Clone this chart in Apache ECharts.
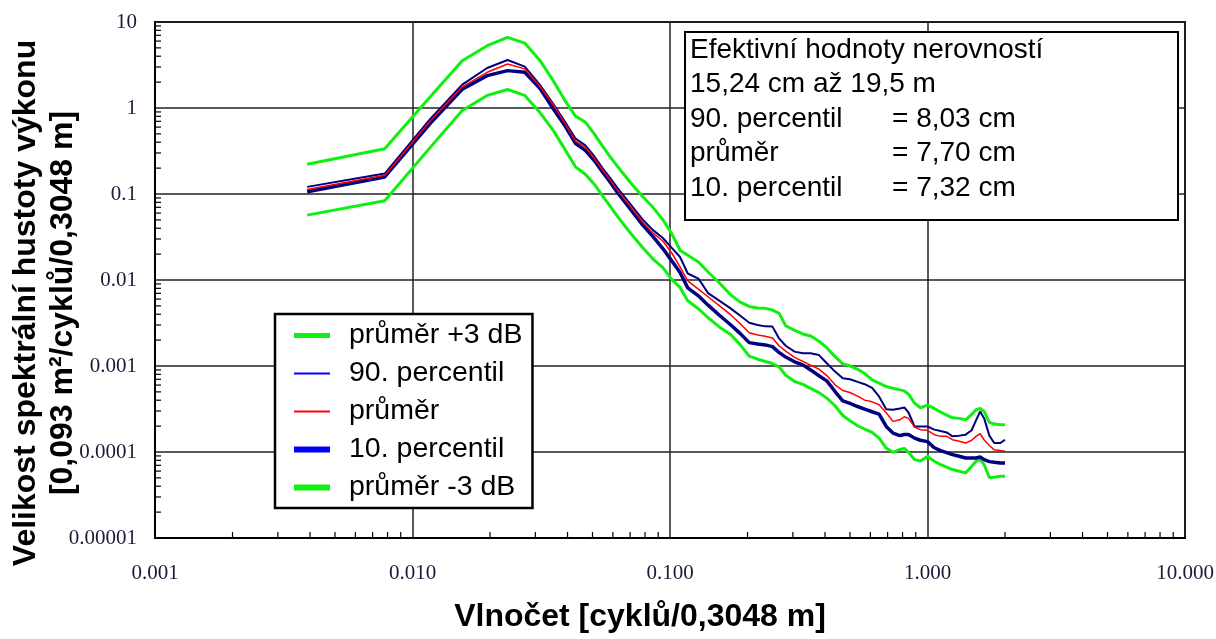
<!DOCTYPE html>
<html>
<head>
<meta charset="utf-8">
<script src="https://cdn.jsdelivr.net/npm/echarts@6/dist/echarts.min.js"></script>
<style>
html,body{margin:0;padding:0;background:#fff;}
#c{width:1216px;height:639px;}
</style>
</head>
<body>
<div id="c"></div>
<script>
// wavenumber [cycles/0.3048 m]
const wavenumber = [0.0039,0.0078,0.0117,0.0156,0.0195,0.0234,0.0273,0.0313,0.0352,0.0391,0.0430,0.0469,0.0508,0.0547,0.0586,0.0625,0.0703,0.0781,0.0859,
0.0938,0.1016,0.1094,0.1172,0.1289,0.1406,0.1563,0.1719,0.1875,0.2031,0.2188,0.2344,0.25,0.2656,0.2813,0.3047,0.3281,0.3516,0.3789,
0.4063,0.4375,0.4688,0.5,0.5352,0.5703,0.6094,0.6484,0.6914,0.7344,0.7813,0.8125,0.8438,0.8906,0.9375,1.0,1.0625,1.125,1.1875,1.25,1.3281,1.4063,1.4844,1.543,1.6016,1.6602,1.7383,1.8164,1.9141,2.0];

const meanPlus3dB = [0.222,0.336,1.34,3.55,5.30,6.62,5.69,3.55,2.08,1.22,0.80,0.685,0.50,0.36,0.27,0.21,0.135,0.094,0.07,
0.0502,0.0346,0.0222,0.0194,0.0162,0.0124,0.0091,0.00672,0.00553,0.00493,0.00472,0.00468,0.00447,0.00409,0.00294,0.0026,0.00236,0.00223,0.00194,
1.634e-3,1.285e-3,1.057e-3,1.002e-3,9.16e-4,8.17e-4,6.90e-4,6.31e-4,5.77e-4,5.52e-4,5.28e-4,5.14e-4,4.70e-4,3.70e-4,3.27e-4,3.51e-4,3.21e-4,2.91e-4,2.69e-4,2.50e-4,2.46e-4,2.37e-4,2.74e-4,3.10e-4,3.21e-4,2.96e-4,2.21e-4,2.11e-4,2.08e-4,2.08e-4];

const percentile90 = [0.121,0.173,0.74,1.87,2.92,3.62,3.03,1.85,1.12,0.69,0.44,0.368,0.275,0.2,0.153,0.118,0.076,0.051,0.038,
0.0308,0.0236,0.0185,0.0119,0.0104,0.00703,0.00568,0.00468,0.00384,0.00319,0.003,0.00289,0.00287,0.00208,0.00172,0.00147,0.00141,0.00141,0.00134,
1.076e-3,8.61e-4,7.21e-4,7.02e-4,6.54e-4,6.14e-4,5.57e-4,4.42e-4,3.15e-4,3.10e-4,3.21e-4,3.30e-4,2.88e-4,1.98e-4,1.98e-4,1.98e-4,1.82e-4,1.75e-4,1.69e-4,1.52e-4,1.55e-4,1.59e-4,1.79e-4,2.33e-4,2.96e-4,2.46e-4,1.55e-4,1.27e-4,1.27e-4,1.39e-4];

const mean = [0.113,0.165,0.70,1.76,2.6,3.25,2.85,1.78,1.1,0.66,0.41,0.35,0.26,0.19,0.145,0.111,0.071,0.0475,0.035,
0.0284,0.0206,0.0142,0.00978,0.00783,0.00638,0.00497,0.00395,0.0031,0.00244,0.00229,0.00222,0.00212,0.00171,0.00149,0.00126,0.00113,0.00102,0.00092,
7.74e-4,6.04e-4,5.19e-4,4.92e-4,4.46e-4,4.01e-4,3.83e-4,3.54e-4,2.86e-4,2.27e-4,2.37e-4,2.57e-4,2.46e-4,1.95e-4,1.82e-4,1.79e-4,1.59e-4,1.52e-4,1.52e-4,1.39e-4,1.33e-4,1.27e-4,1.37e-4,1.52e-4,1.63e-4,1.38e-4,1.19e-4,1.06e-4,1.04e-4,1.02e-4];

const percentile10 = [0.106,0.158,0.66,1.65,2.38,2.72,2.60,1.68,0.98,0.62,0.385,0.322,0.245,0.18,0.137,0.104,0.066,0.044,0.032,
0.0232,0.0167,0.0122,0.0081,0.00655,0.0051,0.00384,0.00302,0.00238,0.00187,0.0018,0.00176,0.00168,0.00143,0.00127,0.00112,0.00103,0.0009,0.00077,
6.71e-4,5.05e-4,3.94e-4,3.67e-4,3.38e-4,3.15e-4,2.94e-4,2.76e-4,1.98e-4,1.66e-4,1.55e-4,1.60e-4,1.60e-4,1.45e-4,1.37e-4,1.32e-4,1.12e-4,1.04e-4,9.83e-5,9.32e-5,8.92e-5,8.53e-5,8.53e-5,8.53e-5,8.76e-5,8.16e-5,7.73e-5,7.60e-5,7.46e-5,7.46e-5];

const meanMinus3dB = [0.0568,0.0833,0.346,0.936,1.40,1.64,1.40,0.88,0.549,0.33,0.206,0.17,0.13,0.095,0.072,0.055,0.035,0.024,0.0175,
0.01395,0.0101,0.00819,0.00573,0.00463,0.00364,0.00281,0.00232,0.00176,0.0013,0.0012,0.00113,0.00107,0.00097,0.00078,0.00066,0.00061,0.00055,0.00049,
4.23e-4,3.45e-4,2.66e-4,2.31e-4,2.02e-4,1.85e-4,1.69e-4,1.45e-4,1.11e-4,9.92e-5,1.07e-4,1.10e-4,9.92e-5,8.16e-5,7.87e-5,8.84e-5,7.80e-5,7.14e-5,6.65e-5,6.25e-5,5.98e-5,5.72e-5,6.83e-5,7.80e-5,8.16e-5,7.14e-5,5.05e-5,5.09e-5,5.23e-5,5.23e-5];

const seriesNames = ['průměr +3 dB','90. percentil','průměr','10. percentil','průměr -3 dB'];
const xTickLabels = ['0.001','0.010','0.100','1.000','10.000'];
const yTickLabels = ['0.00001','0.0001','0.001','0.01','0.1','1','10'];
const boxLines = ['Efektivní hodnoty nerovností','15,24 cm až 19,5 m'];
const boxLabels = ['90. percentil','průměr','10. percentil'];
const boxValues = ['= 8,03 cm','= 7,70 cm','= 7,32 cm'];

const X_MIN = 0.001, X_MAX = 10, Y_MIN = 1e-5, Y_MAX = 10;

// minor tick positions (2..9 in each decade) – axis decoration
const xMinor = [];
for (let e = -3; e < 1; e++) for (let k = 2; k <= 9; k++) xMinor.push(k * Math.pow(10, e));
const yMinor = [];
for (let e = -5; e < 1; e++) for (let k = 2; k <= 9; k++) yMinor.push(k * Math.pow(10, e));

function pairs(ys) { return wavenumber.map((x, i) => [x, ys[i]]); }

const chart = echarts.init(document.getElementById('c'), null, {renderer: 'canvas'});

const SANS = 'Liberation Sans, Arial, sans-serif';
const SERIF = 'Liberation Serif, Times New Roman, serif';

const option = {
  backgroundColor: '#fff',
  animation: false,
  grid: {
    left: 155, right: 31, top: 22, bottom: 101,
    show: true, borderColor: '#111', borderWidth: 2,
    outerBoundsMode: 'none'
  },
  xAxis: {
    type: 'log', logBase: 10, min: X_MIN, max: X_MAX, splitNumber: 4,
    axisLine: {show: true, onZero: false, lineStyle: {color: '#000', width: 2}},
    axisTick: {show: false},
    splitLine: {show: true, lineStyle: {color: '#222', width: 1.5}},
    axisLabel: {
      margin: 25, fontSize: 21, fontFamily: SERIF, color: '#1a1a3a',
      formatter: (v, i) => xTickLabels[i]
    },
    name: 'Vlnočet [cyklů/0,3048 m]',
    nameLocation: 'middle', nameGap: 63, nameMoveOverlap: false,
    nameTextStyle: {fontSize: 32, fontWeight: 'bold', fontFamily: SANS, color: '#000', padding: [0, 60, 0, 0]}
  },
  yAxis: {
    type: 'log', logBase: 10, min: Y_MIN, max: Y_MAX, splitNumber: 6,
    axisLine: {show: true, onZero: false, lineStyle: {color: '#000', width: 2}},
    axisTick: {show: false},
    splitLine: {show: true, lineStyle: {color: '#222', width: 1.5}},
    axisLabel: {
      margin: 18, fontSize: 21, fontFamily: SERIF, color: '#1a1a3a',
      formatter: (v, i) => yTickLabels[i]
    },
    name: 'Velikost spektrální hustoty výkonu\n[0,093 m²/cyklů/0,3048 m]',
    nameLocation: 'middle', nameGap: 68.5, nameRotate: 90, nameMoveOverlap: false,
    nameTextStyle: {fontSize: 32, fontWeight: 'bold', fontFamily: SANS, color: '#000', lineHeight: 37,
      backgroundColor: '#fff', padding: [0, 46, 5, 0]}
  },
  legend: {
    left: 275, top: 314, orient: 'vertical',
    backgroundColor: '#fff', borderColor: '#000', borderWidth: 2.5,
    padding: [7, 10, 6, 16],
    itemWidth: 36, itemHeight: 28, itemGap: 9,
    selectedMode: false,
    textStyle: {fontSize: 28.5, fontFamily: SANS, color: '#000', lineHeight: 28, padding: [0, 0, 0, 14]},
    data: [
      {name: seriesNames[0], lineStyle: {width: 5, color: '#10f010'}, itemStyle: {opacity: 0}},
      {name: seriesNames[1], lineStyle: {width: 2, color: '#0000ff'}, itemStyle: {opacity: 0}},
      {name: seriesNames[2], lineStyle: {width: 2, color: '#ff0000'}, itemStyle: {opacity: 0}},
      {name: seriesNames[3], lineStyle: {width: 6, color: '#0000ff'}, itemStyle: {opacity: 0}},
      {name: seriesNames[4], lineStyle: {width: 6, color: '#10f010'}, itemStyle: {opacity: 0}}
    ],
    z: 10
  },
  graphic: [
    {
      type: 'rect', z: 100,
      shape: {x: 685, y: 32, width: 493, height: 188},
      style: {fill: '#fff', stroke: '#000', lineWidth: 2}
    },
    {
      type: 'text', z: 101, x: 690, y: 33,
      style: {
        text: boxLines[0] + '\n' + boxLines[1] + '\n' +
          boxLabels.map((l, i) => '{l|' + l + '}{v|' + boxValues[i] + '}').join('\n'),
        fontSize: 28, lineHeight: 34.5, fontFamily: SANS, fill: '#000',
        rich: {
          l: {width: 202, fontSize: 28, lineHeight: 34.5, fontFamily: SANS, fill: '#000'},
          v: {fontSize: 28, lineHeight: 34.5, fontFamily: SANS, fill: '#000'}
        }
      }
    }
  ],
  series: [
    {name: seriesNames[0], type: 'line', data: pairs(meanPlus3dB), showSymbol: false, symbol: 'none',
      lineStyle: {color: '#10f010', width: 3}, itemStyle: {color: '#10f010'}, z: 3},
    {name: seriesNames[4], type: 'line', data: pairs(meanMinus3dB), showSymbol: false, symbol: 'none',
      lineStyle: {color: '#10f010', width: 3}, itemStyle: {color: '#10f010'}, z: 3},
    {name: seriesNames[3], type: 'line', data: pairs(percentile10), showSymbol: false, symbol: 'none',
      lineStyle: {color: '#000080', width: 3.5}, itemStyle: {color: '#000080'}, z: 4},
    {name: seriesNames[1], type: 'line', data: pairs(percentile90), showSymbol: false, symbol: 'none',
      lineStyle: {color: '#000080', width: 2}, itemStyle: {color: '#000080'}, z: 5},
    {name: seriesNames[2], type: 'line', data: pairs(mean), showSymbol: false, symbol: 'none',
      lineStyle: {color: '#ff0000', width: 1.5}, itemStyle: {color: '#ff0000'}, z: 6},
    {
      name: 'xMinorTicks', type: 'custom', silent: true, clip: false, z: 7,
      data: xMinor.map(v => [v, Y_MIN]),
      renderItem: (params, api) => {
        const p = api.coord([api.value(0), api.value(1)]);
        return {type: 'line', shape: {x1: p[0], y1: p[1], x2: p[0], y2: p[1] - 6},
          style: {stroke: '#000', lineWidth: 1.2}};
      }
    },
    {
      name: 'yMinorTicks', type: 'custom', silent: true, clip: false, z: 7,
      data: yMinor.map(v => [X_MIN, v]),
      renderItem: (params, api) => {
        const p = api.coord([api.value(0), api.value(1)]);
        return {type: 'line', shape: {x1: p[0], y1: p[1], x2: p[0] + 6, y2: p[1]},
          style: {stroke: '#000', lineWidth: 1.2}};
      }
    }
  ]
};
chart.setOption(option);
</script>
</body>
</html>
